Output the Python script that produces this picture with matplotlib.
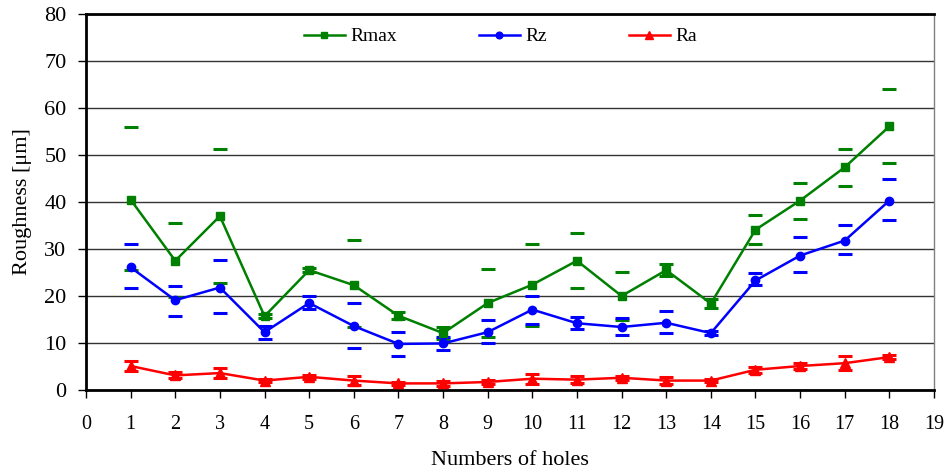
import matplotlib
matplotlib.use("Agg")
import matplotlib.pyplot as plt
import numpy as np

holes = list(range(1, 19))

rmax = [40.5, 27.5, 37.0, 15.7, 25.5, 22.3, 15.8, 12.1, 18.5, 22.4, 27.5, 20.0, 25.5, 18.4, 34.1, 40.3, 47.4, 56.1]
rmax_hi = [56.0, 35.6, 51.3, 16.2, 25.9, 31.9, 16.5, 13.4, 25.7, 31.1, 33.3, 25.1, 26.8, 19.4, 37.2, 44.0, 51.3, 64.0]
rmax_lo = [25.5, 19.8, 22.8, 15.3, 25.2, 13.3, 15.1, 10.9, 11.3, 13.7, 21.7, 14.9, 24.3, 17.4, 31.0, 36.4, 43.5, 48.4]

rz = [26.1, 19.1, 21.8, 12.3, 18.5, 13.6, 9.8, 9.9, 12.3, 17.1, 14.2, 13.4, 14.3, 12.1, 23.3, 28.6, 31.8, 40.3]
rz_hi = [31.0, 22.2, 27.6, 13.7, 19.9, 18.6, 12.3, 11.3, 14.8, 19.9, 15.5, 15.3, 16.7, 12.5, 24.8, 32.5, 35.0, 44.9]
rz_lo = [21.6, 15.7, 16.3, 10.9, 17.2, 8.9, 7.2, 8.4, 10.1, 14.0, 13.0, 11.8, 12.1, 11.6, 22.3, 25.0, 29.0, 36.2]

ra = [5.1, 3.1, 3.6, 2.0, 2.8, 2.0, 1.4, 1.4, 1.7, 2.4, 2.2, 2.6, 2.0, 2.0, 4.3, 5.1, 5.7, 7.0]
ra_hi = [6.2, 3.8, 4.6, 2.4, 3.2, 3.0, 1.7, 1.9, 2.2, 3.5, 3.0, 3.0, 2.8, 2.3, 4.9, 5.8, 7.2, 7.4]
ra_lo = [4.0, 2.5, 2.6, 1.6, 2.4, 1.0, 1.1, 0.9, 1.2, 1.3, 1.4, 2.2, 1.2, 1.7, 3.7, 4.4, 4.2, 6.6]

x_ticks = list(range(0, 20))
y_ticks = list(range(0, 90, 10))

plt.rcParams['font.family'] = ['Liberation Serif', 'DejaVu Serif']

fig = plt.figure(figsize=(9.47, 4.75), dpi=100)
ax = fig.add_axes([0.0908, 0.179, 0.8955, 0.7915])

series = [
    ("Rmax", rmax, rmax_hi, rmax_lo, "#008000", "s", 5.5),
    ("Rz", rz, rz_hi, rz_lo, "#0000FF", "o", 6),
    ("Ra", ra, ra_hi, ra_lo, "#FF0000", "^", 6.5),
]
for name, v, hi, lo, c, m, ms in series:
    v = np.array(v); hi = np.array(hi); lo = np.array(lo)
    ax.errorbar(holes, v, yerr=[v - lo, hi - v], fmt='none', ecolor=c,
                elinewidth=0, capsize=5, capthick=2.2, zorder=3)
    ax.plot(holes, v, color=c, lw=1.8, marker=m, ms=ms, label=name, zorder=4)

ax.set_xlim(0, 19)
ax.set_ylim(0, 80)
ax.set_xticks(x_ticks)
ax.set_yticks(y_ticks)
ax.tick_params(axis='both', direction='out', length=6, width=1)
ax.tick_params(axis='x', labelsize=14.5, pad=12)
ax.tick_params(axis='y', labelsize=16, pad=8)
ax.grid(axis='y', color='#333333', lw=1)
ax.set_axisbelow(True)

for s in ['left', 'bottom']:
    ax.spines[s].set_linewidth(2)
    ax.spines[s].set_color('black')
ax.spines['top'].set_linewidth(2)
ax.spines['top'].set_color('black')
ax.spines['right'].set_linewidth(1)
ax.spines['right'].set_color('#808080')

ax.set_xlabel("Numbers of holes", fontsize=16, labelpad=12)
ax.set_ylabel("Roughness [μm]", fontsize=16, labelpad=9)

ax.legend(loc='upper center', bbox_to_anchor=(0.489, 1.01), ncol=3, frameon=False,
          fontsize=14, columnspacing=4.2, handlelength=2.1, handletextpad=0.3,
          markerscale=0.8)

fig.savefig("out.png", dpi=100)
